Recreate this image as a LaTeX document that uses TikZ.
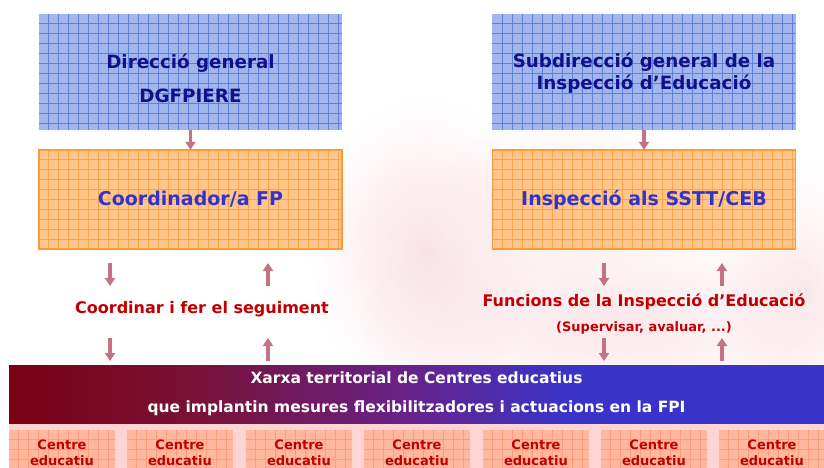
\documentclass[tikz,border=0pt]{standalone}
\usepackage{fontspec}
\setmainfont{DejaVu Sans}
\usetikzlibrary{arrows.meta,fadings}
\definecolor{navytxt}{HTML}{10108A}
\definecolor{bluetxt}{HTML}{3333CC}
\definecolor{redtxt}{HTML}{C00000}
\definecolor{bluefill}{HTML}{A2B6EC}
\definecolor{blueline}{HTML}{5F80DC}
\definecolor{orfill}{HTML}{FFC68C}
\definecolor{orline}{HTML}{FFA448}
\definecolor{orborder}{HTML}{FF9933}
\definecolor{cbfill}{HTML}{FFB89E}
\definecolor{cbline}{HTML}{FF9C7E}
\definecolor{stripc}{HTML}{FFD4D4}
\definecolor{barred}{HTML}{7A0012}
\definecolor{barmidA}{HTML}{781238}
\definecolor{barmidB}{HTML}{682288}
\definecolor{barblue}{HTML}{3A33C8}
\definecolor{arrowc}{HTML}{C47284}
\definecolor{wmark}{HTML}{F7CDD3}
\tikzfading[name=softblob, inner color=transparent!20, outer color=transparent!100]
\pgfdeclarelayer{background}
\pgfdeclarelayer{watermark}
\pgfsetlayers{watermark,background,main}
\pgfdeclarehorizontalshading{barshade}{100bp}{color(0bp)=(barred); color(25bp)=(barred); color(36.7bp)=(barmidA); color(49.3bp)=(barmidB); color(59bp)=(barblue); color(100bp)=(barblue)}
\tikzset{
  bluebox/.style={minimum width=303pt, minimum height=116pt, inner sep=0pt},
  boxtext/.style={inner sep=0pt, align=center, text=navytxt, font=\bfseries\fontsize{18.3}{22}\selectfont},
  orbox/.style={minimum width=303pt, minimum height=99pt, inner sep=0pt, align=center, text=bluetxt, font=\bfseries\fontsize{19}{23}\selectfont},
  redlabel/.style={inner sep=0pt, text=redtxt, font=\bfseries\fontsize{16}{20}\selectfont},
  sublabel/.style={inner sep=0pt, text=redtxt, font=\bfseries\fontsize{13}{16}\selectfont},
  xarxabar/.style={minimum width=815pt, minimum height=58pt, inner sep=0pt, align=center, text=white, shading=barshade, font=\bfseries\fontsize{15.5}{29}\selectfont},
  centrebox/.style={minimum width=106pt, minimum height=46pt, inner sep=0pt, align=center, text=redtxt, font=\bfseries\fontsize{13}{16}\selectfont},
  flowarrow/.style={draw=arrowc, line width=3.5pt, -{Triangle[width=10pt,length=8pt]}},
  gridline/.style={line width=0.8pt},
  blob/.style={fill=wmark, path fading=softblob}
}
\newcommand\gridbg[4]{% node, fill, line, count
  \fill[#2] (#1.north west) rectangle (#1.south east);
  \begin{scope}
    \clip (#1.north west) rectangle (#1.south east);
    \foreach \k in {1,...,#4} {
      \draw[gridline,#3] ([xshift=\k*10pt]#1.north west) -- ([xshift=\k*10pt]#1.south west);
      \draw[gridline,#3] ([yshift=-\k*10pt]#1.north west) -- ([yshift=-\k*10pt]#1.north east);
    }
  \end{scope}}
\begin{document}
\begin{tikzpicture}[x=1pt,y=-1pt]
\useasboundingbox (0,0) rectangle (824,468);
% white page and faint watermark
\begin{pgfonlayer}{watermark}
  \fill[white] (0,0) rectangle (824,468);
  \fill[blob, opacity=0.7] (310,100) rectangle (540,400);
  \fill[blob, opacity=0.6] (360,220) rectangle (860,420);
  \fill[blob, opacity=0.5] (720,160) rectangle (880,420);
  \fill[blob, opacity=0.4] (440,110) rectangle (700,280);
\end{pgfonlayer}
% top boxes
\node[bluebox] (dg) at (190.5,72) {};
\node[boxtext] (dgtxt) at ([yshift=-6pt]dg.center) {Direcció general\\[12pt]DGFPIERE};
\node[bluebox] (sdg) at (644,72) {};
\node[boxtext] (sdgtxt) at ([yshift=-1pt]sdg.center) {Subdirecció general de la\\Inspecció d’Educació};
\node[orbox] (coord) at (190.5,199.5) {Coordinador/a FP};
\node[orbox] (insp) at (644,199.5) {Inspecció als SSTT/CEB};
\begin{pgfonlayer}{background}
  \gridbg{dg}{bluefill}{blueline}{31}
  \gridbg{sdg}{bluefill}{blueline}{31}
  \gridbg{coord}{orfill}{orline}{31}
  \gridbg{insp}{orfill}{orline}{31}
\end{pgfonlayer}
\draw[orborder, line width=1.5pt] (coord.north west) rectangle (coord.south east);
\draw[orborder, line width=1.5pt] (insp.north west) rectangle (insp.south east);
% labels
\node[redlabel] (coordlbl) at (202,309) {Coordinar i fer el seguiment};
\node[redlabel] (funclbl) at (644,302) {Funcions de la Inspecció d’Educació};
\node[sublabel] (suplbl) at (644,328) {(Supervisar, avaluar, ...)};
% bar and strip
\begin{pgfonlayer}{background}
  \fill[stripc] (9,423) rectangle (824,468);
\end{pgfonlayer}
\node[xarxabar] (xarxa) at (416.5,394) {Xarxa territorial de Centres educatius\\que implantin mesures flexibilitzadores i actuacions en la FPI};
\foreach \i/\cx in {1/62,2/180,3/299,4/417,5/536,6/654,7/772} {
  \node[centrebox] (cb\i) at (\cx,453) {Centre\\educatiu};
}
\begin{pgfonlayer}{background}
  \foreach \i in {1,...,7} { \gridbg{cb\i}{cbfill}{cbline}{11} }
\end{pgfonlayer}
% arrows
\draw[flowarrow] (dg.south) -- (coord.north);
\draw[flowarrow] (sdg.south) -- (insp.north);
\coordinate (l1a) at (110,263); \coordinate (l1b) at (110,286);
\coordinate (l2a) at (268,286); \coordinate (l2b) at (268,263);
\coordinate (l3a) at (110,338); \coordinate (l3b) at (110,361);
\coordinate (l4a) at (268,361); \coordinate (l4b) at (268,338);
\coordinate (r1a) at (604,263); \coordinate (r1b) at (604,286);
\coordinate (r2a) at (722,286); \coordinate (r2b) at (722,263);
\coordinate (r3a) at (604,338); \coordinate (r3b) at (604,361);
\coordinate (r4a) at (722,361); \coordinate (r4b) at (722,338);
\foreach \p in {l1,l2,l3,l4,r1,r2,r3,r4} { \draw[flowarrow] (\p a) -- (\p b); }
\end{tikzpicture}
\end{document}
